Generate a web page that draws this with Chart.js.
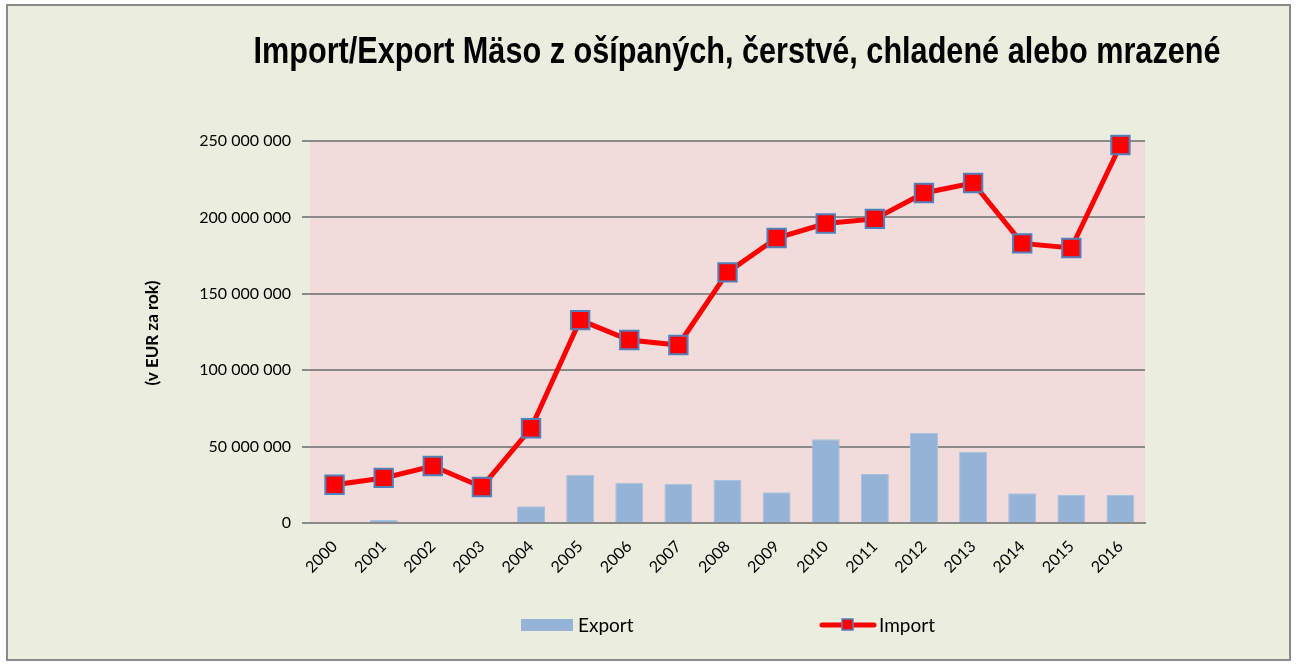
<!DOCTYPE html>
<html>
<head>
<meta charset="utf-8">
<script src="https://cdn.jsdelivr.net/npm/chart.js@4.4.1/dist/chart.umd.min.js"></script>
<style>
  html, body { margin: 0; padding: 0; background: #ffffff; }
  #wrap { width: 1296px; height: 666px; position: relative; }
</style>
</head>
<body>
<div id="wrap"><canvas id="chart"></canvas></div>
<script>
// hodnoty odčítané z grafu (EUR za rok)
const years = ['2000', '2001', '2002', '2003', '2004', '2005', '2006', '2007', '2008',
               '2009', '2010', '2011', '2012', '2013', '2014', '2015', '2016'];
const exportValues = [0, 2000000, 700000, 0, 11000000, 31600000, 26400000, 25700000, 28100000,
                      20100000, 54800000, 32000000, 58900000, 46700000, 19400000, 18300000, 18300000];
const importValues = [25000000, 29500000, 37300000, 23600000, 62000000, 132800000, 119800000, 116500000, 164000000,
                      186500000, 196000000, 199000000, 216000000, 222500000, 183000000, 180000000, 247400000];
const yTicks = [0, 50000000, 100000000, 150000000, 200000000, 250000000];

const titleText = 'Import/Export Mäso z ošípaných, čerstvé, chladené alebo mrazené';
const yTitleText = '(v EUR za rok)';
const labelFont = 'Lato, "Open Sans", sans-serif';

function formatNum(v) {
    return String(Math.round(v)).replace(/\B(?=(\d{3})+(?!\d))/g, ' ');
}

// pozadie, rámik, nadpis a legenda
const decorPlugin = {
    id: 'decor',
    beforeDraw(chart) {
        const ctx = chart.ctx;
        const a = chart.chartArea;
        ctx.save();
        ctx.fillStyle = '#ffffff';
        ctx.fillRect(0, 0, chart.width, chart.height);
        ctx.fillStyle = '#ebeede';
        ctx.fillRect(7, 5, 1283, 655);
        ctx.strokeStyle = '#8a8a8a';
        ctx.lineWidth = 2;
        ctx.strokeRect(7, 5, 1283, 655);
        ctx.fillStyle = '#f2dcdb';
        ctx.fillRect(a.left, a.top, a.right - a.left, a.bottom - a.top);
        ctx.restore();
    },
    afterDraw(chart) {
        const ctx = chart.ctx;
        ctx.save();
        // nadpis - zúžené písmo
        ctx.fillStyle = '#000';
        ctx.font = 'bold 37px "Liberation Sans Narrow", "Arial Narrow", "Liberation Sans", sans-serif';
        ctx.textAlign = 'center';
        ctx.textBaseline = 'middle';
        const w = ctx.measureText(titleText).width;
        const sx = Math.min(1, 967 / w);
        ctx.translate(737, 53);
        ctx.scale(sx, 1);
        ctx.fillText(titleText, 0, 0);
        ctx.restore();

        // popis osi Y
        ctx.save();
        ctx.fillStyle = '#000';
        ctx.textAlign = 'center';
        ctx.textBaseline = 'middle';
        ctx.translate(153, 333);
        ctx.rotate(-Math.PI / 2);
        ctx.font = 'bold 17px ' + labelFont;
        ctx.fillText(yTitleText, 0, 0);
        ctx.restore();

        // legenda
        ctx.save();
        ctx.fillStyle = '#95b3d7';
        ctx.fillRect(521, 619, 52, 12);
        ctx.fillStyle = '#000';
        ctx.font = '19px ' + labelFont;
        ctx.textBaseline = 'middle';
        ctx.fillText('Export', 578, 626);

        ctx.strokeStyle = '#ff0000';
        ctx.lineWidth = 5;
        ctx.lineCap = 'round';
        ctx.beginPath();
        ctx.moveTo(822, 625);
        ctx.lineTo(874, 625);
        ctx.stroke();
        ctx.fillStyle = '#ff0000';
        ctx.fillRect(842, 619, 11, 11);
        ctx.strokeStyle = '#4f81bd';
        ctx.lineWidth = 1.5;
        ctx.strokeRect(842, 619, 11, 11);
        ctx.fillStyle = '#000';
        ctx.fillText('Import', 879, 626);
        ctx.restore();
    }
};

new Chart(document.getElementById('chart'), {
    data: {
        labels: years,
        datasets: [
            {
                type: 'line',
                label: 'Import',
                data: importValues,
                order: 0,
                clip: false,
                borderColor: '#ff0000',
                borderWidth: 5,
                tension: 0,
                pointStyle: 'rect',
                pointRadius: 13,
                pointBackgroundColor: '#ff0000',
                pointBorderColor: '#4f81bd',
                pointBorderWidth: 2
            },
            {
                type: 'bar',
                label: 'Export',
                data: exportValues,
                order: 1,
                backgroundColor: '#95b3d7',
                borderColor: '#a9c1de',
                borderWidth: 1,
                categoryPercentage: 1,
                barPercentage: 0.57
            }
        ]
    },
    plugins: [decorPlugin],
    options: {
        responsive: true,
        maintainAspectRatio: false,
        animation: false,
        layout: { padding: { top: 141, right: 151, left: 0, bottom: 0 } },
        plugins: {
            legend: { display: false },
            title: { display: false },
            tooltip: { enabled: false }
        },
        scales: {
            x: {
                offset: true,
                grid: { display: false, drawTicks: false },
                border: { display: true, color: '#8a8a8a', width: 2 },
                ticks: {
                    color: '#000',
                    font: { family: labelFont, size: 16 },
                    minRotation: 45,
                    maxRotation: 45,
                    padding: 14
                },
                afterFit(scale) { scale.height = 143; }
            },
            y: {
                min: 0,
                max: 250000000,
                afterBuildTicks(scale) { scale.ticks = yTicks.map(v => ({ value: v })); },
                grid: { color: '#8a8a8a', lineWidth: 2, tickLength: 8, drawTicks: true },
                border: { display: false },
                ticks: {
                    color: '#000',
                    font: { family: labelFont, size: 16 },
                    padding: 11,
                    callback: v => formatNum(v)
                },
                afterFit(scale) { scale.width = 310; }
            }
        }
    }
});
</script>
</body>
</html>
